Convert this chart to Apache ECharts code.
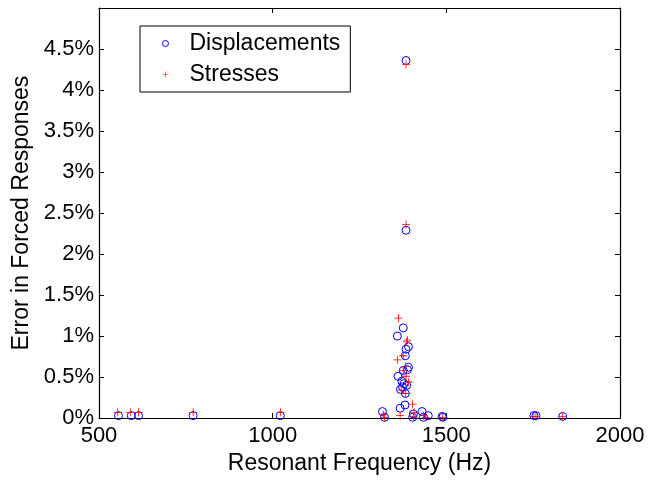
<!DOCTYPE html>
<html>
<head>
<meta charset="utf-8">
<script src="https://cdn.jsdelivr.net/npm/echarts@6/dist/echarts.min.js"></script>
<style>html,body{margin:0;padding:0;background:#fff;}#c{width:649px;height:480px;}</style>
</head>
<body>
<div id="c"></div>
<script>
// Displacements (Hz, % error)
var dispFreq = [556, 593, 614, 771, 1022, 1316, 1322, 1359, 1361, 1367, 1368, 1372, 1376, 1376, 1378, 1381, 1382, 1382, 1384, 1384, 1384, 1388, 1391, 1391, 1403, 1405, 1430, 1434, 1448, 1490, 1488, 1752, 1758, 1835, 1374, 1386];
var dispErr  = [0.03, 0.03, 0.03, 0.03, 0.03, 0.08, 0.01, 1.00, 0.51, 0.12, 0.35, 0.45, 1.10, 0.58, 0.42, 0.16, 0.76, 0.30, 0.84, 4.36, 2.29, 0.59, 0.87, 0.62, 0.01, 0.05, 0.08, 0.01, 0.03, 0.01, 0.02, 0.03, 0.03, 0.02, 0.38, 0.40];
// Stresses (Hz, % error)
var stressFreq = [554, 590, 614, 771, 1023, 1319, 1322, 1362, 1388, 1386, 1376, 1359, 1382, 1376, 1384, 1391, 1370, 1382, 1403, 1407, 1367, 1434, 1441, 1490, 1384, 1384, 1752, 1758, 1835, 1405];
var stressErr  = [0.07, 0.07, 0.07, 0.07, 0.07, 0.04, 0.01, 1.22, 0.95, 0.93, 0.76, 0.71, 0.63, 0.58, 0.51, 0.44, 0.34, 0.30, 0.17, 0.07, 0.03, 0.03, 0.01, 0.01, 4.31, 2.36, 0.02, 0.02, 0.02, 0.02];
var xTicks = [500, 1000, 1500, 2000];
var yTicks = [0, 0.5, 1, 1.5, 2, 2.5, 3, 3.5, 4, 4.5];

function pairs(xs, ys) { return xs.map(function (x, i) { return [x, ys[i]]; }); }

var FONT = "'Liberation Sans', Arial, Helvetica, sans-serif";
var plusPath = 'path://M4.5,0h1v10h-1z M0,4.5h10v1h-10z';

var chart = echarts.init(document.getElementById('c'), null, {renderer: 'canvas'});
chart.setOption({
  animation: false,
  backgroundColor: '#fff',
  grid: {left: 99, right: 29, top: 8, bottom: 59, show: false},
  xAxis: [{
    type: 'value', min: 500, max: 2000, interval: 500, position: 'bottom',
    name: 'Resonant Frequency (Hz)', nameLocation: 'middle', nameGap: 30,
    nameTextStyle: {fontFamily: FONT, fontSize: 23, color: '#000'},
    axisLine: {show: true, lineStyle: {color: '#000', width: 1.2}},
    axisTick: {show: true, inside: true, length: 5, lineStyle: {color: '#000'}},
    axisLabel: {fontFamily: FONT, fontSize: 22, color: '#000', margin: 7,
      formatter: function (v) { return xTicks.indexOf(v) >= 0 ? String(v) : ''; }},
    splitLine: {show: false}
  }, {
    type: 'value', min: 500, max: 2000, interval: 500, position: 'top',
    axisLine: {show: true, onZero: false, lineStyle: {color: '#000', width: 1.2}},
    axisTick: {show: true, inside: true, length: 5, lineStyle: {color: '#000'}},
    axisLabel: {show: false}, splitLine: {show: false}
  }],
  yAxis: [{
    type: 'value', min: 0, max: 5, interval: 0.5, position: 'left',
    name: 'Error in Forced Responses', nameLocation: 'middle', nameGap: 61,
    nameTextStyle: {fontFamily: FONT, fontSize: 23, color: '#000'},
    axisLine: {show: true, lineStyle: {color: '#000', width: 1.2}},
    axisTick: {show: true, inside: true, length: 5, lineStyle: {color: '#000'}},
    axisLabel: {fontFamily: FONT, fontSize: 22, color: '#000', margin: 5,
      formatter: function (v) { return yTicks.indexOf(v) >= 0 ? v + '%' : ''; }},
    splitLine: {show: false}
  }, {
    type: 'value', min: 0, max: 5, interval: 0.5, position: 'right',
    axisLine: {show: true, onZero: false, lineStyle: {color: '#000', width: 1.2}},
    axisTick: {show: true, inside: true, length: 5, lineStyle: {color: '#000'}},
    axisLabel: {show: false}, splitLine: {show: false}
  }],
  legend: {
    show: true, orient: 'vertical', left: 140, top: 26,
    backgroundColor: '#fff', borderColor: '#000', borderWidth: 1,
    padding: [6, 10, 6, 20], itemGap: 8, itemWidth: 6, itemHeight: 6,
    textStyle: {fontFamily: FONT, fontSize: 23, color: '#000', padding: [0, 0, 0, 16], lineHeight: 22},
    data: [
      {name: 'Displacements', icon: 'circle', itemStyle: {color: 'none', borderColor: '#0000ff', borderWidth: 1}},
      {name: 'Stresses', icon: plusPath, itemStyle: {color: '#ff0000', borderWidth: 0}}
    ]
  },
  series: [{
    name: 'Displacements', type: 'scatter', xAxisIndex: 0, yAxisIndex: 0,
    data: pairs(dispFreq, dispErr), symbol: 'circle', symbolSize: 8,
    itemStyle: {color: 'none', borderColor: '#0000ff', borderWidth: 1, opacity: 1},
    z: 2
  }, {
    name: 'Stresses', type: 'scatter', xAxisIndex: 0, yAxisIndex: 0,
    data: pairs(stressFreq, stressErr), symbol: plusPath, symbolSize: 8,
    itemStyle: {color: '#ff0000', borderWidth: 0, opacity: 1},
    z: 3
  }]
});
</script>
</body>
</html>
